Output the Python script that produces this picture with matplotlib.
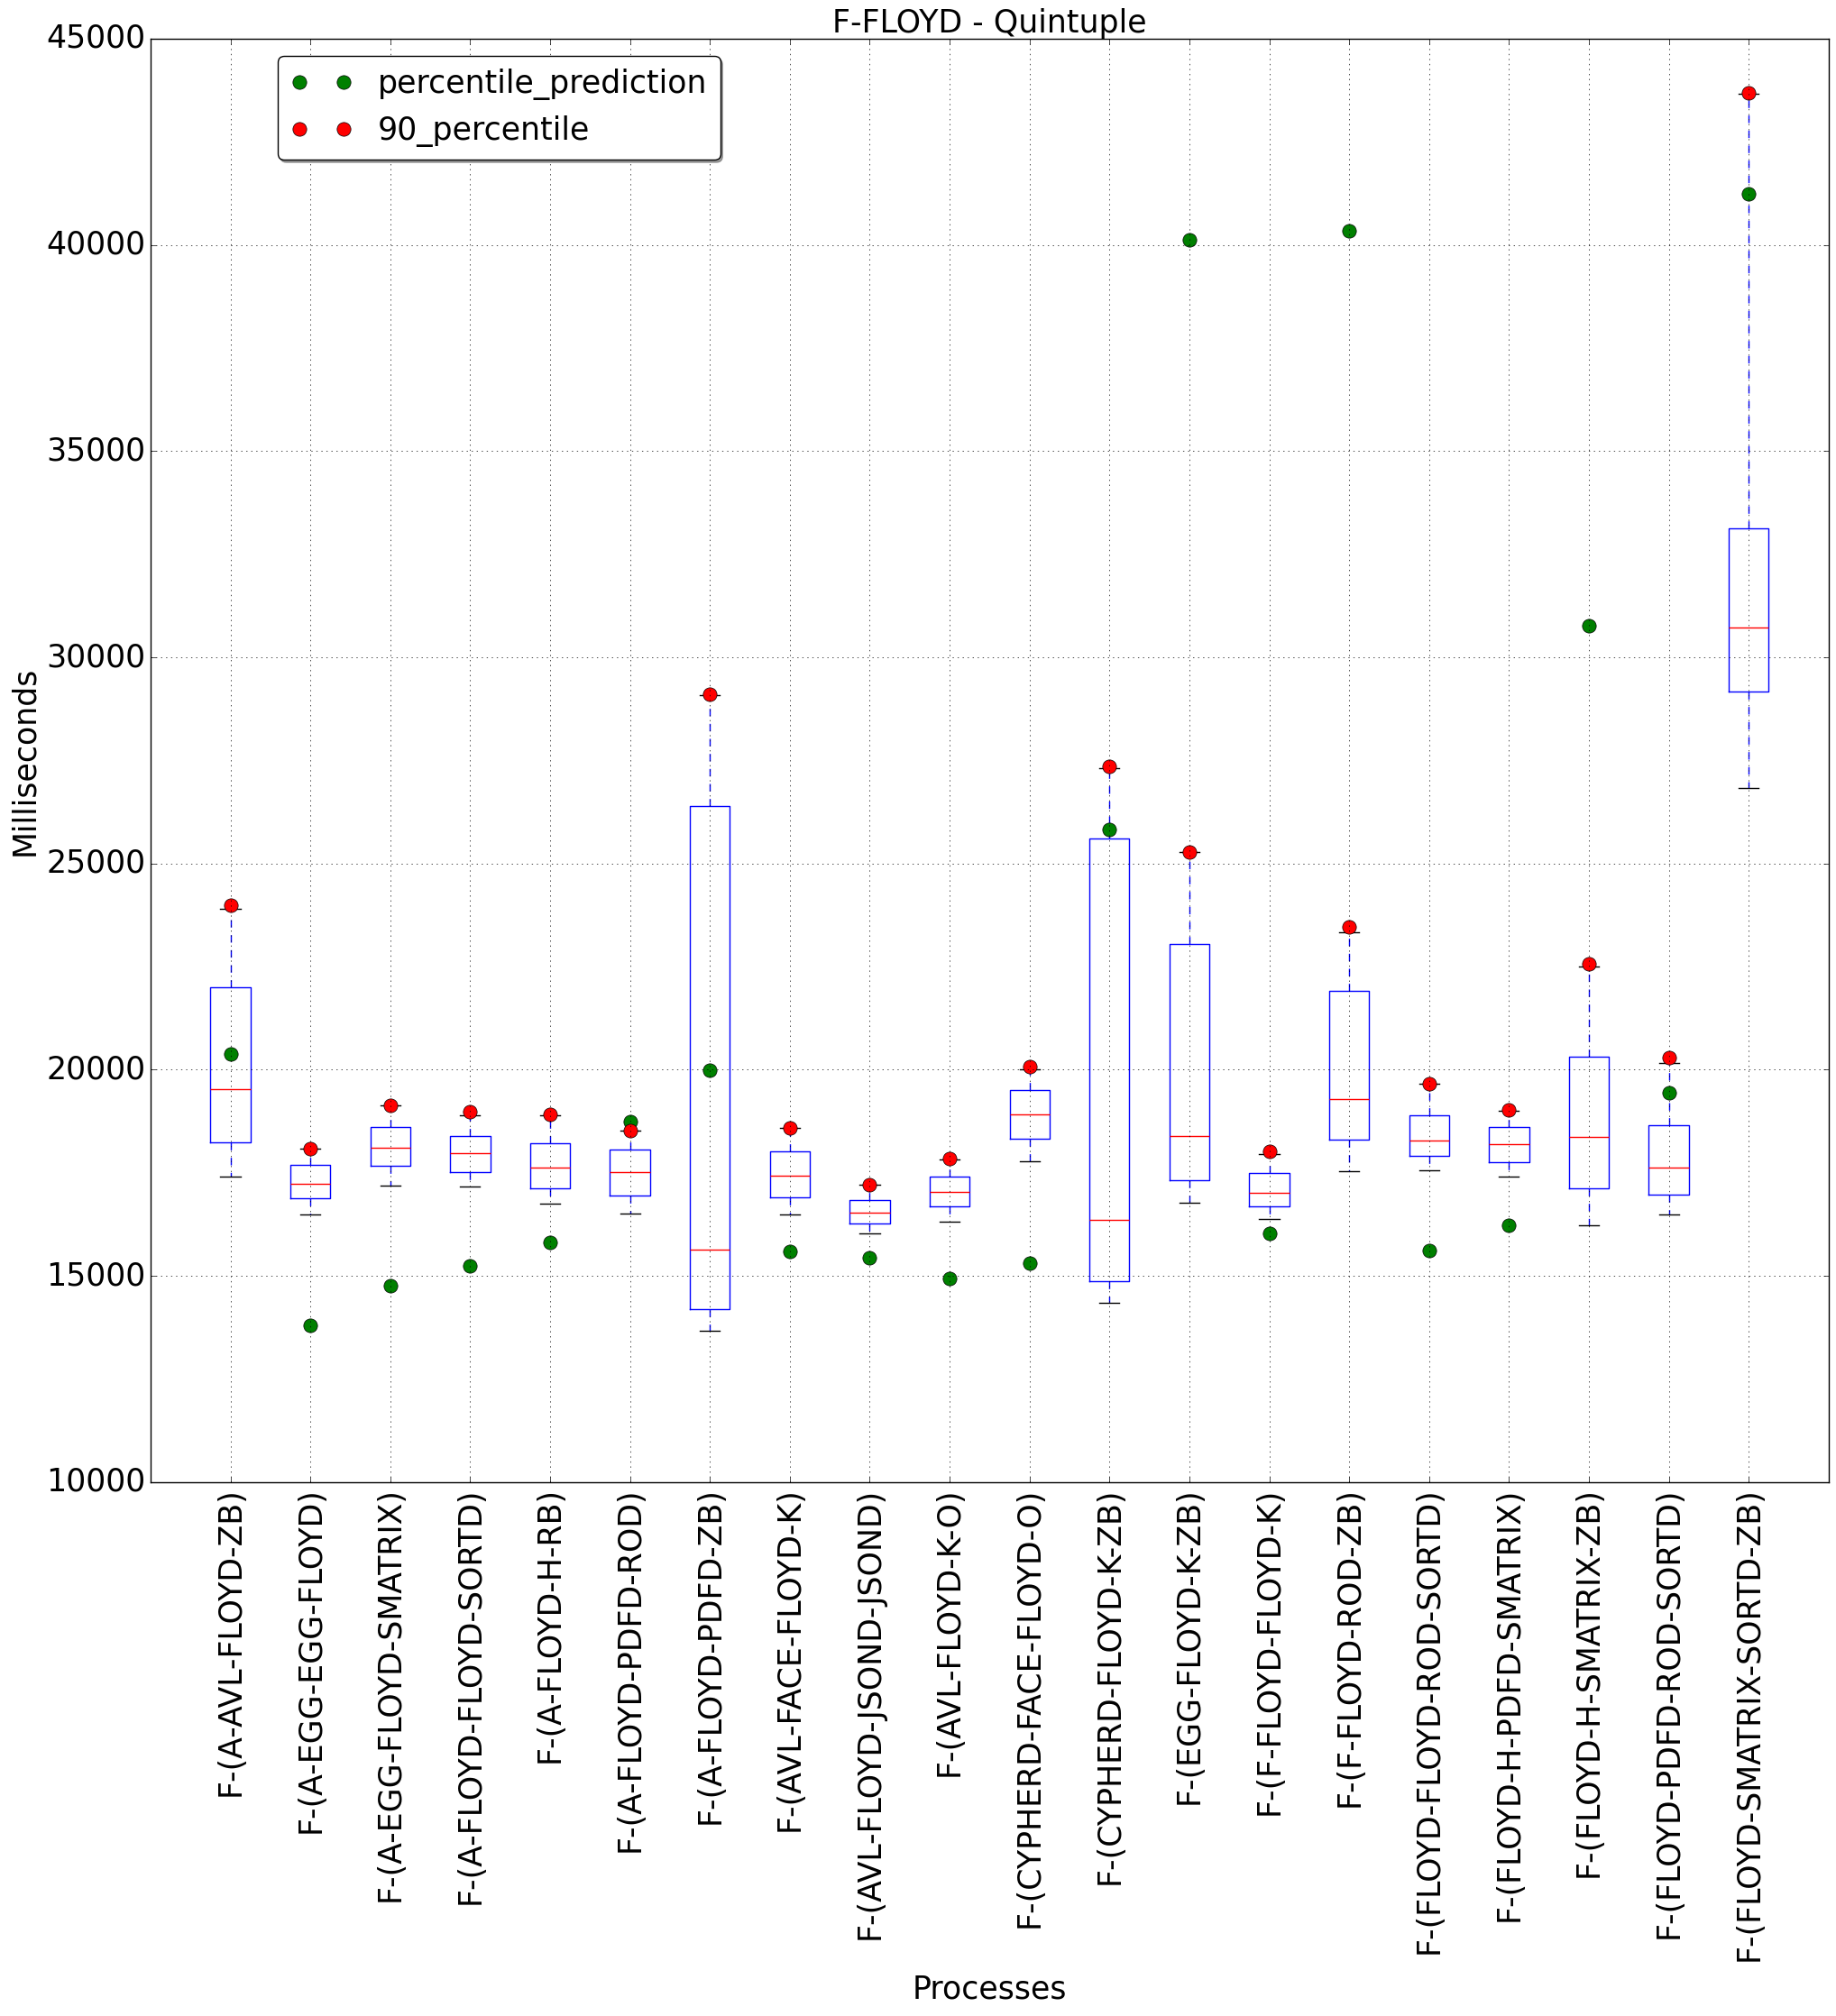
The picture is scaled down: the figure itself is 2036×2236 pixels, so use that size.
import matplotlib
matplotlib.use("Agg")
import matplotlib.pyplot as plt

plt.style.use("classic")
plt.rcParams["font.family"] = ["DejaVu Sans"]
plt.rcParams["font.size"] = 25

labels = [
    "F-(A-AVL-FLOYD-ZB)",
    "F-(A-EGG-EGG-FLOYD)",
    "F-(A-EGG-FLOYD-SMATRIX)",
    "F-(A-FLOYD-FLOYD-SORTD)",
    "F-(A-FLOYD-H-RB)",
    "F-(A-FLOYD-PDFD-ROD)",
    "F-(A-FLOYD-PDFD-ZB)",
    "F-(AVL-FACE-FLOYD-K)",
    "F-(AVL-FLOYD-JSOND-JSOND)",
    "F-(AVL-FLOYD-K-O)",
    "F-(CYPHERD-FACE-FLOYD-O)",
    "F-(CYPHERD-FLOYD-K-ZB)",
    "F-(EGG-FLOYD-K-ZB)",
    "F-(F-FLOYD-FLOYD-K)",
    "F-(F-FLOYD-ROD-ZB)",
    "F-(FLOYD-FLOYD-ROD-SORTD)",
    "F-(FLOYD-H-PDFD-SMATRIX)",
    "F-(FLOYD-H-SMATRIX-ZB)",
    "F-(FLOYD-PDFD-ROD-SORTD)",
    "F-(FLOYD-SMATRIX-SORTD-ZB)",
]

# box statistics (ms)
whisker_low = [17420, 16500, 17180, 17160, 16745, 16520, 13665, 16495, 16030, 16310,
               17790, 14340, 16775, 16375, 17540, 17560, 17410, 16230, 16500, 26825]
q1 = [18250, 16875, 17680, 17525, 17135, 16960, 14200, 16915, 16275, 16685,
      18330, 14865, 17320, 16685, 18310, 17910, 17757, 17130, 16977, 29170]
median = [19525, 17245, 18118, 17988, 17635, 17512, 15645, 17436, 16530, 17040,
          18920, 16370, 18392, 17021, 19292, 18285, 18198, 18373, 17630, 30723]
q3 = [21997, 17704, 18602, 18387, 18226, 18057, 26392, 18032, 16840, 17402,
      19510, 25600, 23052, 17493, 21918, 18890, 18611, 20316, 18660, 33138]
whisker_high = [23900, 18095, 19132, 18886, 18886, 18533, 29080, 18587, 17221, 17829,
                20000, 27321, 25272, 17956, 23334, 19664, 19010, 22492, 20168, 43661]

percentile_prediction = [20376, 13802, 14755, 15246, 15807, 18748, 19985, 15594, 15440, 14932,
                         15318, 25817, 40130, 16031, 40350, 15615, 16228, 30760, 19447, 41244]
percentile_90 = [23994, 18095, 19132, 18979, 18917, 18533, 29110, 18585, 17221, 17856,
                 20073, 27357, 25272, 18029, 23461, 19664, 19033, 22560, 20285, 43685]

positions = list(range(1, len(labels) + 1))

stats = []
for lo, a, m, b, hi in zip(whisker_low, q1, median, q3, whisker_high):
    stats.append({"whislo": lo, "q1": a, "med": m, "q3": b, "whishi": hi, "fliers": []})

fig = plt.figure(figsize=(20.36, 22.36), dpi=100)
ax = fig.add_subplot(111)
fig.subplots_adjust(left=0.082, right=0.996, top=0.9808, bottom=0.2648)

ax.bxp(stats, positions=positions, widths=0.5, showfliers=False)

ax.plot(positions, percentile_prediction, "go", markersize=11, label="percentile_prediction")
ax.plot(positions, percentile_90, "ro", markersize=11, label="90_percentile")

ax.set_xlim(0, 21)
ax.set_ylim(10000, 45000)
ax.set_xticks(positions)
ax.set_xticklabels(labels, rotation=90)
ax.grid(True)

ax.set_title("F-FLOYD - Quintuple", fontsize=25)
ax.set_xlabel("Processes", fontsize=25, labelpad=10)
ax.set_ylabel("Milliseconds", fontsize=25)

ax.legend(loc="upper left", bbox_to_anchor=(0.0758, 0.988), borderaxespad=0,
          fancybox=True, shadow=True, numpoints=2, fontsize=25)

fig.savefig("out.png", dpi=100)
